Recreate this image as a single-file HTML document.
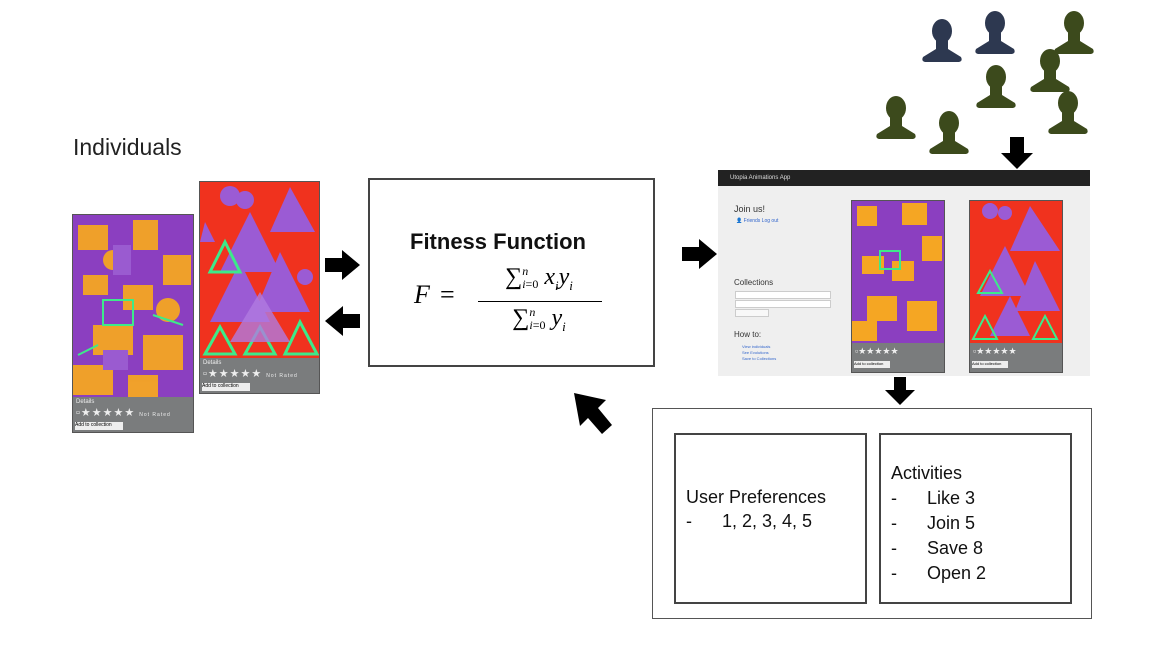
<!DOCTYPE html>
<html><head><meta charset="utf-8"><style>
body{margin:0;width:1158px;height:646px;background:#fff;position:relative;overflow:hidden;font-family:"Liberation Sans",sans-serif}
.a{position:absolute}
.card{position:absolute;border:1px solid #555;background:#7a7c7d}
.gt{position:absolute;color:#eee;font-size:9px}
.ss{display:inline-block;vertical-align:middle;font-size:12px;line-height:13px;text-align:left;font-family:'Liberation Serif',serif}
</style></head><body>
<div class="a" style="left:73px;top:134px;font-size:23px;color:#222">Individuals</div>

<div class="card" style="left:72px;top:214px;width:120px;height:217px">
<svg width="120" height="182" style="display:block">
<rect width="120" height="182" fill="#8b3fc0"/>
<g fill="#f5a623" opacity=".95">
<rect x="5" y="10" width="30" height="25"/><rect x="60" y="5" width="25" height="30"/><rect x="90" y="40" width="28" height="30"/>
<rect x="10" y="60" width="25" height="20"/><rect x="50" y="70" width="30" height="25"/><rect x="20" y="110" width="40" height="30"/>
<rect x="70" y="120" width="40" height="35"/><rect x="0" y="150" width="40" height="30"/><rect x="55" y="160" width="30" height="22"/>
<circle cx="40" cy="45" r="10"/><circle cx="95" cy="95" r="12"/></g>
<g fill="none" stroke="#3dea8a" stroke-width="2"><rect x="30" y="85" width="30" height="25"/><path d="M5 140 L25 130 M80 100 L110 110"/></g>
<g fill="#9a5bd0"><rect x="40" y="30" width="18" height="30"/><rect x="30" y="135" width="25" height="20"/></g>
</svg>
<div class="gt" style="left:3px;top:184px;font-size:6px">Details</div>
<div class="gt" style="left:3px;top:191px;font-size:11px;letter-spacing:1px">▫★★★★★ <span style="font-size:5px">Not Rated</span></div>
<div class="a" style="left:2px;top:207px;width:48px;height:8px;background:#eee;font-size:5px">Add to collection</div>
</div>

<div class="card" style="left:199px;top:181px;width:119px;height:211px">
<svg width="119" height="176" style="display:block">
<rect width="119" height="176" fill="#f0321e"/>
<g fill="#9b5bd4"><circle cx="30" cy="14" r="10"/><circle cx="45" cy="18" r="9"/>
<polygon points="50,30 80,90 20,90"/><polygon points="90,5 115,50 70,50"/><polygon points="40,80 70,140 10,140"/>
<polygon points="80,70 110,130 55,130"/><circle cx="105" cy="95" r="8"/><polygon points="5,40 15,60 0,60"/></g>
<g fill="none" stroke="#3dea8a" stroke-width="3"><polygon points="25,60 40,90 10,90"/><polygon points="20,145 35,172 5,172"/><polygon points="60,145 75,172 45,172"/><polygon points="100,140 117,172 85,172"/></g>
<g fill="#b07be0" opacity=".8"><polygon points="60,110 90,160 30,160"/></g>
</svg>
<div class="gt" style="left:3px;top:178px;font-size:6px">Details</div>
<div class="gt" style="left:3px;top:185px;font-size:11px;letter-spacing:1px">▫★★★★★ <span style="font-size:5px">Not Rated</span></div>
<div class="a" style="left:2px;top:201px;width:48px;height:8px;background:#eee;font-size:5px">Add to collection</div>
</div>

<svg class="a" style="left:0;top:0" width="1158" height="646">
<polygon points="325,258 342,258 342,250 360,265 342,280 342,272 325,272" fill="#000"/>
<polygon points="360,314 343,314 343,306 325,321 343,336 343,328 360,328" fill="#000"/>
<polygon points="682,247 699,247 699,239 717,254 699,269 699,261 682,261" fill="#000"/>
<polygon points="1010,137 1024,137 1024,153 1033,153 1017,169 1001,153 1010,153" fill="#000"/>
<polygon points="894,377 906,377 906,390 915,390 900,405 885,390 894,390" fill="#000"/>
<polygon points="612,425 602,434 588,418 580,426 574,393 606,400 598,408" fill="#000"/>
<defs><g id="p"><ellipse cx="0" cy="11" rx="10" ry="12"/><path d="M-6 20h12v9l13 8q2 4-2 5h-34q-4-1-2-5l13-8z"/></g></defs>
<g fill="#2d3850"><use href="#p" x="942" y="20"/><use href="#p" x="995" y="12"/></g>
<g fill="#3c4a1c">
<use href="#p" x="1074" y="12"/><use href="#p" x="1050" y="50"/><use href="#p" x="996" y="66"/>
<use href="#p" x="1068" y="92"/><use href="#p" x="896" y="97"/><use href="#p" x="949" y="112"/>
</g>
</svg>

<div class="a" style="left:368px;top:178px;width:283px;height:185px;border:2px solid #444;background:#fff">
<div class="a" style="left:40px;top:49px;font-size:22px;font-weight:bold;color:#111">Fitness Function</div>
<div class="a" style="left:44px;top:100px;font-family:'Liberation Serif',serif;font-size:26px;font-style:italic">F</div>
<div class="a" style="left:70px;top:100px;font-family:'Liberation Serif',serif;font-size:26px">=</div>
<div class="a" style="left:104px;top:84px;width:130px;text-align:center;font-family:'Liberation Serif',serif;font-size:24px;white-space:nowrap">∑<span class="ss"><i>n</i><br><i>i</i>=0</span> <i>x<sub style="font-size:13px">i</sub>y<sub style="font-size:13px">i</sub></i></div>
<div class="a" style="left:108px;top:121px;width:124px;border-top:1.5px solid #000"></div>
<div class="a" style="left:104px;top:125px;width:130px;text-align:center;font-family:'Liberation Serif',serif;font-size:24px;white-space:nowrap">∑<span class="ss"><i>n</i><br><i>i</i>=0</span> <i>y<sub style="font-size:13px">i</sub></i></div>
</div>

<div class="a" style="left:718px;top:170px;width:372px;height:206px;background:#efefef">
<div class="a" style="left:0;top:0;width:372px;height:16px;background:#222;color:#ddd;font-size:6px;line-height:16px;padding-left:12px;box-sizing:border-box">Utopia Animations App</div>
<div class="a" style="left:16px;top:34px;font-size:9px;color:#333">Join us!</div>
<div class="a" style="left:18px;top:48px;font-size:5px;color:#36c">👤 Friends Log out</div>
<div class="a" style="left:16px;top:108px;font-size:8px;color:#333">Collections</div>
<div class="a" style="left:17px;top:121px;width:94px;height:6px;background:#fff;border:1px solid #ccc"></div>
<div class="a" style="left:17px;top:130px;width:94px;height:6px;background:#fff;border:1px solid #ccc"></div>
<div class="a" style="left:17px;top:139px;width:32px;height:6px;background:#f8f8f8;border:1px solid #ccc"></div>
<div class="a" style="left:16px;top:160px;font-size:8px;color:#333">How to:</div>
<div class="a" style="left:24px;top:174px;font-size:4px;color:#36c;line-height:6px">View individuals<br>See Evolutions<br>Save to Collections</div>
<div class="a" style="left:133px;top:30px;width:92px;height:171px;background:#7a7c7d;border:1px solid #555">
<svg width="92" height="142" style="display:block"><rect width="92" height="142" fill="#8b3fc0"/>
<g fill="#f5a623"><rect x="5" y="5" width="20" height="20"/><rect x="50" y="2" width="25" height="22"/><rect x="70" y="35" width="20" height="25"/><rect x="10" y="55" width="22" height="18"/><rect x="40" y="60" width="22" height="20"/><rect x="15" y="95" width="30" height="25"/><rect x="55" y="100" width="30" height="30"/><rect x="0" y="120" width="25" height="20"/></g>
<g fill="none" stroke="#3dea8a" stroke-width="2"><rect x="28" y="50" width="20" height="18"/></g></svg>
<div class="gt" style="left:3px;top:145px;font-size:9px">▫★★★★★</div>
<div class="a" style="left:2px;top:160px;width:36px;height:7px;background:#eee;font-size:4px">Add to collection</div>
</div>
<div class="a" style="left:251px;top:30px;width:92px;height:171px;background:#7a7c7d;border:1px solid #555">
<svg width="92" height="142" style="display:block"><rect width="92" height="142" fill="#f0321e"/>
<g fill="#9b5bd4"><circle cx="20" cy="10" r="8"/><circle cx="35" cy="12" r="7"/><polygon points="60,5 90,50 40,50"/><polygon points="35,45 60,95 10,95"/><polygon points="65,60 90,110 45,110"/><polygon points="40,95 60,135 20,135"/></g>
<g fill="none" stroke="#3dea8a" stroke-width="2"><polygon points="20,70 32,92 8,92"/><polygon points="15,115 27,138 3,138"/><polygon points="75,115 87,138 63,138"/></g></svg>
<div class="gt" style="left:3px;top:145px;font-size:9px">▫★★★★★</div>
<div class="a" style="left:2px;top:160px;width:36px;height:7px;background:#eee;font-size:4px">Add to collection</div>
</div>
</div>

<div class="a" style="left:652px;top:408px;width:438px;height:209px;border:1px solid #555"></div>
<div class="a" style="left:674px;top:433px;width:189px;height:167px;border:2px solid #444">
<div class="a" style="left:10px;top:50px;font-size:18px;color:#111;line-height:24px;white-space:nowrap">User Preferences<br>-&nbsp;&nbsp;&nbsp;&nbsp;&nbsp;&nbsp;1, 2, 3, 4, 5</div>
</div>
<div class="a" style="left:879px;top:433px;width:189px;height:167px;border:2px solid #444">
<div class="a" style="left:10px;top:26px;font-size:18px;color:#111;line-height:25px;white-space:nowrap">Activities<br>-&nbsp;&nbsp;&nbsp;&nbsp;&nbsp;&nbsp;Like 3<br>-&nbsp;&nbsp;&nbsp;&nbsp;&nbsp;&nbsp;Join 5<br>-&nbsp;&nbsp;&nbsp;&nbsp;&nbsp;&nbsp;Save 8<br>-&nbsp;&nbsp;&nbsp;&nbsp;&nbsp;&nbsp;Open 2</div>
</div>
</body></html>
